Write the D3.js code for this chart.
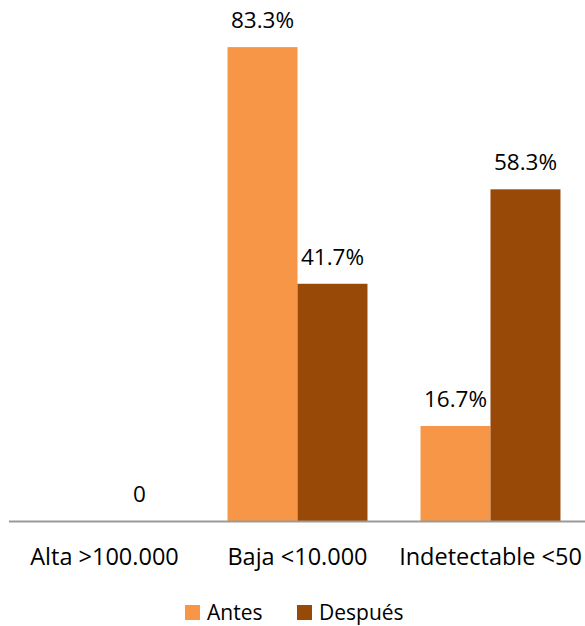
<!DOCTYPE html>
<html>
<head>
<meta charset="utf-8">
<script src="https://cdn.jsdelivr.net/npm/d3@7"></script>
<style>
  body { margin: 0; background: #fff; }
  text { font-family: "Open Sans", sans-serif; fill: #000; }
</style>
</head>
<body>
<svg id="chart" width="585" height="626"></svg>
<script>
const categories = ["Alta >100.000", "Baja <10.000", "Indetectable <50"];
const series = ["Antes", "Después"];
const antes = [0, 83.3, 16.7];
const despues = [0, 41.7, 58.3];
const antesLabels = ["", "83.3%", "16.7%"];
const despuesLabels = ["0", "41.7%", "58.3%"];

const COLORS = { "Antes": "#F79646", "Después": "#984807" };
const BASE = 521;

const svg = d3.select("svg#chart");

const x = d3.scaleBand()
  .domain(categories)
  .range([8, 587])
  .paddingInner(0)
  .paddingOuter(0);

const inner = d3.scaleBand()
  .domain(series)
  .range([0, x.bandwidth()])
  .paddingInner(0)
  .paddingOuter(0.379);

const y = d3.scaleLinear()
  .domain([0, 90])
  .range([BASE, 9]);

const rows = categories.map((c, i) => ({
  cat: c,
  vals: [
    { s: "Antes", v: antes[i], label: antesLabels[i] },
    { s: "Después", v: despues[i], label: despuesLabels[i] }
  ]
}));

const groups = svg.selectAll("g.cat")
  .data(rows)
  .enter()
  .append("g")
  .attr("class", "cat")
  .attr("transform", d => `translate(${x(d.cat)},0)`);

groups.selectAll("rect")
  .data(d => d.vals)
  .enter()
  .append("rect")
  .attr("x", d => inner(d.s))
  .attr("width", inner.bandwidth())
  .attr("y", d => y(d.v))
  .attr("height", d => BASE - y(d.v))
  .attr("fill", d => COLORS[d.s]);

// value labels
groups.selectAll("text.val")
  .data(d => d.vals)
  .enter()
  .append("text")
  .attr("class", "val")
  .attr("x", d => inner(d.s) + inner.bandwidth() / 2)
  .attr("y", d => y(d.v) - 19)
  .attr("text-anchor", "middle")
  .attr("font-size", "22.5px")
  .text(d => d.label);

// axis line
svg.append("line")
  .attr("x1", 9)
  .attr("x2", 585)
  .attr("y1", BASE + 0.5)
  .attr("y2", BASE + 0.5)
  .attr("stroke", "#9a9a9a")
  .attr("stroke-width", 2);

// category labels
svg.selectAll("text.cat")
  .data(categories)
  .enter()
  .append("text")
  .attr("class", "cat")
  .attr("x", d => x(d) + x.bandwidth() / 2)
  .attr("y", 565)
  .attr("text-anchor", "middle")
  .attr("font-size", "23.5px")
  .text(d => d);

// legend
const legendX = [185, 297];
const legend = svg.selectAll("g.legend")
  .data(series)
  .enter()
  .append("g")
  .attr("class", "legend")
  .attr("transform", (d, i) => `translate(${legendX[i]},605)`);

legend.append("rect")
  .attr("width", 15)
  .attr("height", 15)
  .attr("fill", d => COLORS[d]);

legend.append("text")
  .attr("x", 22)
  .attr("y", 15)
  .attr("font-size", "21px")
  .text(d => d);
</script>
</body>
</html>
